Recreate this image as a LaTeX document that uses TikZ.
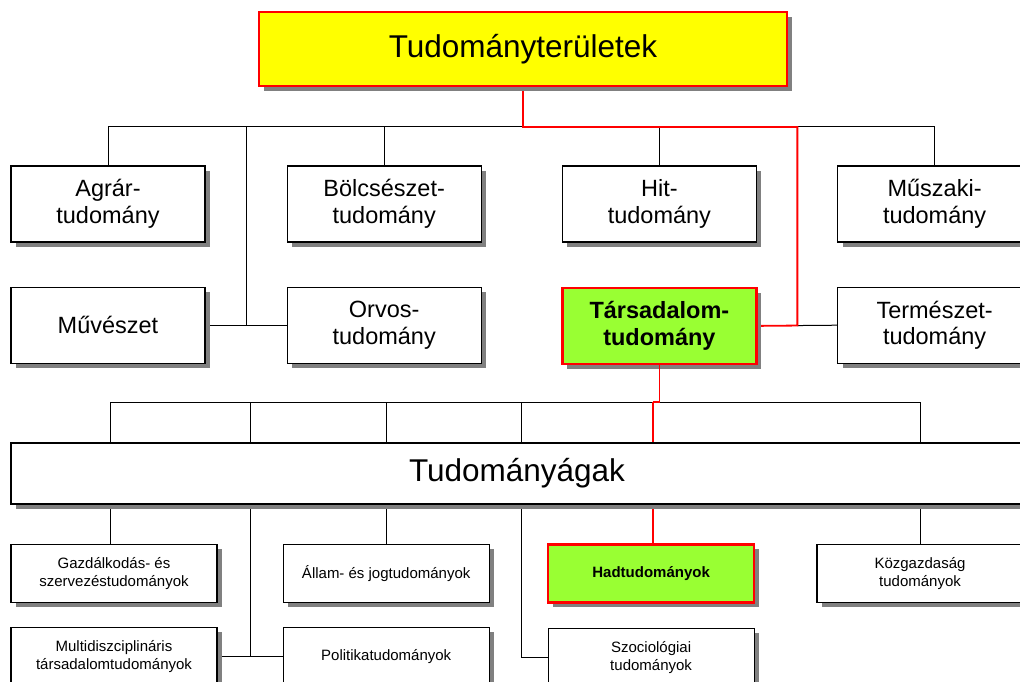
\documentclass[tikz,border=0pt]{standalone}
\usepackage{fontspec}
\setmainfont{Liberation Sans}
\usetikzlibrary{positioning}
\usetikzlibrary{calc}
\usetikzlibrary{shadows}
\usetikzlibrary{backgrounds}

\definecolor{rootyellow}{HTML}{FFFF00}
\definecolor{hotgreen}{HTML}{99FF33}
\definecolor{shadowgray}{HTML}{808080}

\begin{document}
\begin{tikzpicture}[
    x=1pt, y=-1pt,
    node distance=44pt and 80pt,
    boxshadow/.style={drop shadow={shadow xshift=5pt, shadow yshift=-5pt, fill=shadowgray, opacity=1}},
    field/.style={draw, line width=1.2pt, fill=white, boxshadow, inner sep=0pt, minimum width=194pt, minimum height=76pt, align=center, font=\fontsize{23.5}{26.5}\selectfont},
    branch/.style={draw, line width=1.2pt, fill=white, boxshadow, inner sep=0pt, minimum width=206pt, minimum height=58pt, align=center, font=\fontsize{15}{18}\selectfont},
    title/.style={field, font=\fontsize{31.5}{38}\selectfont},
    hot/.style={draw=red, line width=2.6pt},
    link/.style={line width=1pt},
    redlink/.style={draw=red, line width=1.8pt}
]
\useasboundingbox (0,0) rectangle (1020,682);
\clip (0,0) rectangle (1020,682);

\node[title, hot, fill=rootyellow, minimum width=528pt, minimum height=74pt] (root) at (523,49) {Tudományterületek};

\node[field] (agrar) at (108,204) {Agrár-\\tudomány};
\node[field, right=81pt of agrar] (bolcs) {Bölcsészet-\\tudomány};
\node[field, right=of bolcs] (hit) {Hit-\\tudomány};
\node[field, right=of hit] (muszaki) {Műszaki-\\tudomány};

\node[field, below=of agrar] (muv) {Művészet};
\node[field, below=of bolcs] (orvos) {Orvos-\\tudomány};
\node[field, hot, fill=hotgreen, below=of hit] (tars) {\textbf{Társadalom-}\\\textbf{tudomány}};
\node[field, below=of muszaki] (term) {Természet-\\tudomány};

\node[title, minimum width=1012pt, minimum height=61pt] (tag) at (517,473.5) {Tudományágak};

\node[branch, below right=39pt and 0pt of tag.south west] (gazd) {Gazdálkodás- és\\szervezéstudományok};
\node[branch, right=65pt of gazd] (allam) {Állam- és jogtudományok};
\node[branch, hot, fill=hotgreen, right=57pt of allam] (had) {\textbf{Hadtudományok}};
\node[branch, right=61pt of had] (kozg) {Közgazdaság\\tudományok};
\node[branch, below=24pt of gazd] (multi) {Multidiszciplináris\\társadalomtudományok};
\node[branch, below=24pt of allam] (poli) {Politikatudományok};
\node[branch, below=24pt of had] (szoc) {Szociológiai\\tudományok};

\begin{scope}[on background layer]
% tudományterületek
\coordinate (busA) at (0,127);
\coordinate (midM) at ($(muv.east)!0.5!(orvos.west)$);
\coordinate (midT) at ($(tars.east)!0.5!(term.west)$);
\draw[link] (agrar.north |- busA) -- (muszaki.north |- busA);
\foreach \n in {agrar,bolcs,hit,muszaki}
  \draw[link] (\n.north |- busA) -- (\n.north);
\draw[link] (midM |- busA) -- (midM);
\draw[link] (muv.east) -- (orvos.west);
\draw[link] (midT) -- (term.west);
\draw[redlink] (root.south) |- (midT |- busA) -- (midT) -- (tars.east);

% tudományágak
\coordinate (busB) at (0,402);
\coordinate (colA) at (110,0);
\coordinate (colB) at ($(multi.east)!0.5!(poli.west)$);
\coordinate (colD) at (521,0);
\coordinate (colE) at (653,0);
\draw[link] (colA |- busB) -- (kozg.north |- busB);
\foreach \c in {colA,colB,allam.north,colD,kozg.north}
  \draw[link] (\c |- busB) -- (\c |- tag.north);
\foreach \c in {colA,allam.north,kozg.north}
  \draw[link] (\c |- tag.south) -- (\c |- gazd.north);
\draw[link] (colB |- tag.south) -- (colB);
\draw[link] (multi.east) -- (poli.west);
\draw[link] (colD |- tag.south) |- (szoc.west);
\draw[redlink] (colE |- busB) -- (colE |- tag.north);
\draw[redlink] (colE |- tag.south) -- (colE |- had.north);
\end{scope}
\draw[red, line width=1.5pt] (tars.south) -- (tars.south |- busB) -- (colE |- busB);
\end{tikzpicture}
\end{document}
